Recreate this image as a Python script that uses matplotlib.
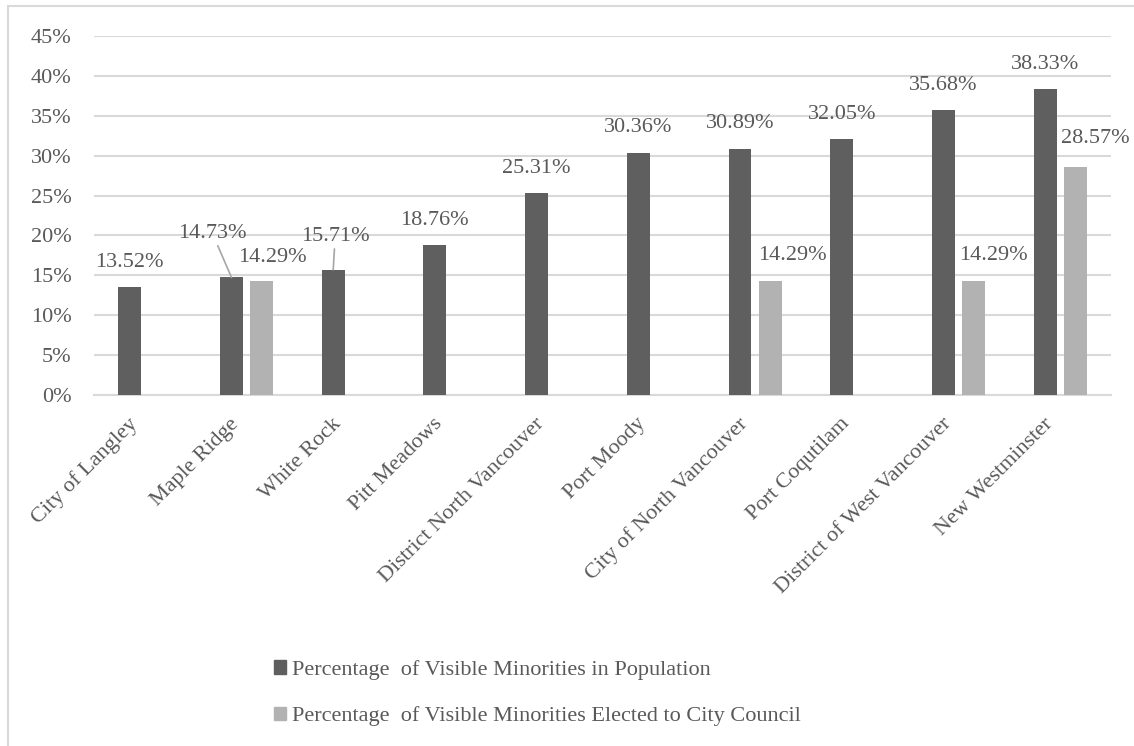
import numpy as np
import matplotlib.pyplot as plt
from matplotlib.patches import Patch, Rectangle
from matplotlib.transforms import ScaledTranslation

plt.rcParams['font.family'] = ['Liberation Serif', 'DejaVu Serif']

cities = ["City of Langley", "Maple Ridge", "White Rock", "Pitt Meadows",
          "District North Vancouver", "Port Moody", "City of North Vancouver",
          "Port Coqutilam", "District of West Vancouver", "New Westminster"]
pop_pct = [13.52, 14.73, 15.71, 18.76, 25.31, 30.36, 30.89, 32.05, 35.68, 38.33]
council_pct = [None, 14.29, None, None, None, None, 14.29, None, 14.29, 28.57]

series_names = ["Percentage  of Visible Minorities in Population",
                "Percentage  of Visible Minorities Elected to City Council"]

DARK = '#5f5f5f'
LIGHT = '#b2b2b2'
TXT = '#595959'
GRID = '#d9d9d9'
FS = 16

W, H = 1134, 746
fig = plt.figure(figsize=(W / 100, H / 100), dpi=100)
ax = fig.add_axes([94 / W, (H - 395) / H, (1111 - 94) / W, (395 - 36) / H])

# chart border
fig.patches.append(Rectangle((8 / W, -0.05), 1.1, (H - 6) / H + 0.05,
                             transform=fig.transFigure, fill=False,
                             edgecolor=GRID, lw=1.5))

x = np.arange(len(cities))
w = 0.226
off = 0.148
pop = np.array(pop_pct, dtype=float)
cnc = np.array([np.nan if v is None else v for v in council_pct], dtype=float)

ax.bar(x - off, pop, w, color=DARK, zorder=3)
ax.bar(x + off, np.nan_to_num(cnc), w, color=LIGHT, zorder=3)

ax.set_xlim(-0.5, len(cities) - 0.5)
ax.set_ylim(0, 45)
ax.set_yticks(np.arange(0, 46, 5))
ax.set_yticklabels([f"{v}%" for v in range(0, 46, 5)])
ax.grid(axis='y', color=GRID, lw=1.5, zorder=0)
for s in ['top', 'right', 'left']:
    ax.spines[s].set_visible(False)
ax.spines['bottom'].set_color(GRID)
ax.spines['bottom'].set_linewidth(1.5)
ax.tick_params(axis='both', length=0, colors=TXT, labelsize=FS)
ax.tick_params(axis='y', pad=16)

ax.set_xticks(x)
ax.set_xticklabels(cities, rotation=45, ha='right', rotation_mode='anchor')
ax.tick_params(axis='x', pad=14)
for lab in ax.get_xticklabels():
    lab.set_transform(lab.get_transform() + ScaledTranslation(-0.17, 0, fig.dpi_scale_trans))

# label offsets in pixels (dx, dy) relative to bar top
pop_off = {1: (-19, 44), 2: (2, 33)}
cnc_off = {1: (11, 23), 6: (22, 25), 8: (20, 25), 9: (20, 29)}
leader = {1, 2}

for i, v in enumerate(pop):
    dx, dy = pop_off.get(i, (0, 25))
    props = dict(arrowstyle='-', color='#a6a6a6', lw=1.2, shrinkA=0, shrinkB=0) if i in leader else None
    ax.annotate(f"{v:.2f}%", xy=(x[i] - off, v), xytext=(dx, dy),
                textcoords='offset pixels', ha='center', va='center',
                fontsize=FS, color=TXT, arrowprops=props)

for i, v in enumerate(cnc):
    if np.isnan(v):
        continue
    dx, dy = cnc_off.get(i, (0, 25))
    ax.annotate(f"{v:.2f}%", xy=(x[i] + off, v), xytext=(dx, dy),
                textcoords='offset pixels', ha='center', va='center',
                fontsize=FS, color=TXT)

handles = [Patch(color=DARK), Patch(color=LIGHT)]
fig.legend(handles, series_names, loc='upper left',
           bbox_to_anchor=(274 / W, 1 - 660 / H), frameon=False, borderpad=0,
           borderaxespad=0, handlelength=0.54, handleheight=0.54,
           handletextpad=0.25, labelspacing=1.19, fontsize=FS, labelcolor=TXT)

fig.savefig("out.png", dpi=100)
